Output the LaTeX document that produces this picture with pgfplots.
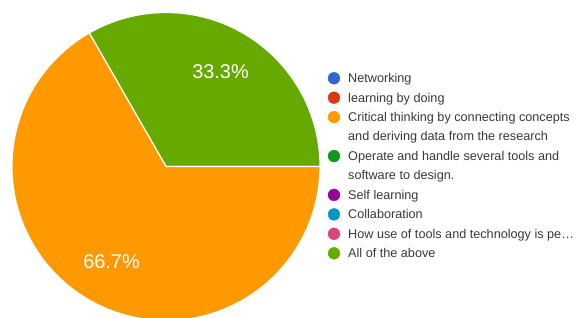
\documentclass[border=0pt]{standalone}
\usepackage{pgfplots}
\pgfplotsset{compat=1.18}
\usepackage{fontspec}
\setmainfont{Liberation Sans}
\definecolor{cBlue}{HTML}{3366CC}
\definecolor{cRed}{HTML}{DC3912}
\definecolor{cOrange}{HTML}{FF9900}
\definecolor{cGreen}{HTML}{109618}
\definecolor{cPurple}{HTML}{990099}
\definecolor{cCyan}{HTML}{0099C6}
\definecolor{cPink}{HTML}{DD4477}
\definecolor{cLime}{HTML}{66AA00}
\tikzset{legtext/.style={anchor=base west, inner sep=0pt, text=black!78,
    font=\fontsize{12.7}{15}\selectfont}}
% shares (percent) of the two non-empty slices
\def\valAll{33.3}
\def\valCrit{66.7}
\begin{document}
\begin{tikzpicture}
\path[use as bounding box] (0,0) rectangle (579bp,318bp);
\begin{axis}[at={(0,0)}, anchor=south west, width=579bp, height=318bp,
  scale only axis, xmin=0, xmax=579, ymin=0, ymax=318, hide axis, clip=true,
]
\pgfmathsetmacro\angA{360*\valAll/100}
\fill[cLime, draw=white, line width=1.2bp] (axis cs:166,151.5) -- ++(0:154bp)
  arc[start angle=0, end angle=\angA, radius=154bp] -- cycle;
\fill[cOrange, draw=white, line width=1.2bp] (axis cs:166,151.5) -- ++(\angA:154bp)
  arc[start angle=\angA, end angle=360, radius=154bp] -- cycle;
\node[text=white, font=\fontsize{20}{22}\selectfont] at (axis cs:220.5,246) {\valAll\%};
\node[text=white, font=\fontsize{20}{22}\selectfont] at (axis cs:111.5,56.5) {\valCrit\%};
% legend markers
\addplot[only marks, mark=*, mark size=5.9bp, cBlue]   coordinates {(334,239.7)};
\addplot[only marks, mark=*, mark size=5.9bp, cRed]    coordinates {(334,220.3)};
\addplot[only marks, mark=*, mark size=5.9bp, cOrange] coordinates {(334,200.8)};
\addplot[only marks, mark=*, mark size=5.9bp, cGreen]  coordinates {(334,161.9)};
\addplot[only marks, mark=*, mark size=5.9bp, cPurple] coordinates {(334,123.1)};
\addplot[only marks, mark=*, mark size=5.9bp, cCyan]   coordinates {(334,103.6)};
\addplot[only marks, mark=*, mark size=5.9bp, cPink]   coordinates {(334,84.2)};
\addplot[only marks, mark=*, mark size=5.9bp, cLime]   coordinates {(334,64.7)};
% legend texts (baseline = centre - 4.4)
\node[legtext] at (axis cs:348,235.3) {Networking};
\node[legtext] at (axis cs:348,215.9) {learning by doing};
\node[legtext] at (axis cs:348,196.4) {Critical thinking by connecting concepts};
\node[legtext] at (axis cs:348,177.0) {and deriving data from the research};
\node[legtext] at (axis cs:348,157.5) {Operate and handle several tools and};
\node[legtext] at (axis cs:348,138.1) {software to design.};
\node[legtext] at (axis cs:348,118.7) {Self learning};
\node[legtext] at (axis cs:348,99.2) {Collaboration};
\node[legtext] at (axis cs:348,79.8) {How use of tools and technology is pe\ldots};
\node[legtext] at (axis cs:348,60.3) {All of the above};
\end{axis}
\end{tikzpicture}
\end{document}
